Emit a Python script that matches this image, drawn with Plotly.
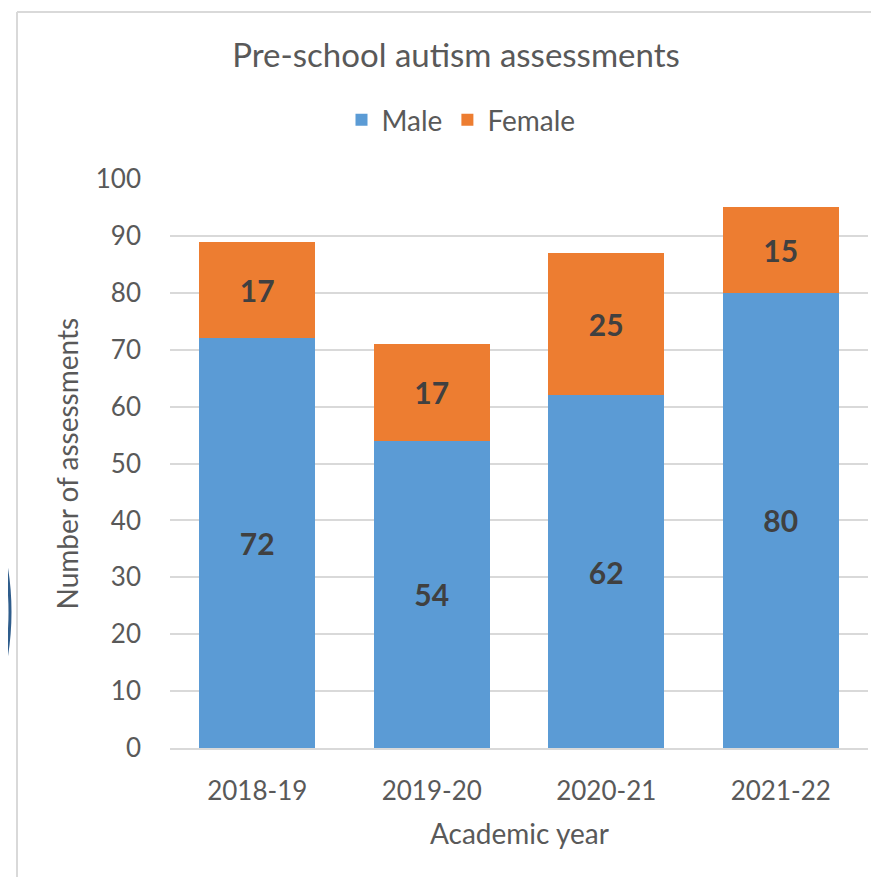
"""
Pre-school autism assessments chart
Stacked bar chart of assessments by sex and academic year
"""

import plotly.graph_objects as go

# Chart data
years = ['2018-19', '2019-20', '2020-21', '2021-22']
male = [72, 54, 62, 80]
female = [17, 17, 25, 15]

COLORS = {
    'male': '#5B9BD5',
    'female': '#ED7D31',
    'text': '#595959',
    'label': '#404040',
    'grid': '#D9D9D9',
    'border': '#D9D9D9',
    'ring': '#2F5D8C',
}

FONT = 'Lato, Calibri, sans-serif'

# the page puts an 8px body margin round the figure
OFF = 8
W, H = 879 - OFF, 877 - OFF
L, R, T, B = 170 - OFF, 11, 179 - OFF, 129


def px_x(x):
    """reference pixel x -> paper x"""
    return (x - OFF - L) / (W - L - R)


def px_y(y):
    """reference pixel y -> paper y"""
    return (H - B - (y - OFF)) / (H - B - T)


fig = go.Figure()

fig.add_trace(go.Bar(
    x=years, y=male,
    name='Male',
    marker=dict(color=COLORS['male'], line=dict(width=0)),
    text=male,
    textposition='inside',
    insidetextanchor='middle',
    textfont=dict(family=FONT, size=30, color=COLORS['label'], weight='bold'),
))

fig.add_trace(go.Bar(
    x=years, y=female,
    name='Female',
    marker=dict(color=COLORS['female'], line=dict(width=0)),
    text=female,
    textposition='inside',
    insidetextanchor='middle',
    textfont=dict(family=FONT, size=30, color=COLORS['label'], weight='bold'),
))

fig.update_layout(
    width=W, height=H,
    barmode='stack',
    bargap=0.335,
    plot_bgcolor='white',
    paper_bgcolor='white',
    font=dict(family=FONT, size=26, color=COLORS['text']),
    title=dict(
        text='Pre-school autism assessments',
        x=(456 - OFF) / W, xanchor='center',
        y=1 - (55 - OFF) / H, yanchor='middle',
        font=dict(family=FONT, size=33, color=COLORS['text']),
    ),
    legend=dict(
        orientation='h',
        x=px_x(461), xanchor='center',
        y=px_y(120), yanchor='middle',
        font=dict(family=FONT, size=28, color=COLORS['text']),
        itemwidth=30,
        traceorder='normal',
    ),
    uniformtext=dict(minsize=30, mode='show'),
    margin=dict(l=L, r=R, t=T, b=B),
    showlegend=True,
)

fig.update_xaxes(
    showgrid=False,
    showline=True, linecolor=COLORS['grid'], linewidth=2,
    ticks='', ticklabelstandoff=19,
    tickfont=dict(family=FONT, size=26, color=COLORS['text']),
)
fig.update_yaxes(
    range=[0, 100], dtick=10,
    showgrid=True, gridcolor=COLORS['grid'], gridwidth=2,
    zeroline=False,
    ticks='', ticklabelstandoff=28,
    tickfont=dict(family=FONT, size=26, color=COLORS['text']),
)

# Axis titles
fig.add_annotation(
    text='Number of assessments', xref='paper', yref='paper',
    x=px_x(66), y=0.5, xanchor='center', yanchor='middle',
    textangle=-90, showarrow=False,
    font=dict(family=FONT, size=28, color=COLORS['text']),
)
fig.add_annotation(
    text='Academic year', xref='paper', yref='paper',
    x=0.5, y=px_y(833), xanchor='center', yanchor='middle',
    showarrow=False,
    font=dict(family=FONT, size=28, color=COLORS['text']),
)

# Chart frame (left and top edges) and the ring cut off on the left
fig.add_shape(type='line', xref='paper', yref='paper',
              x0=px_x(17), x1=px_x(17), y0=px_y(12), y1=px_y(877 + 5),
              line=dict(color=COLORS['border'], width=2))
fig.add_shape(type='line', xref='paper', yref='paper',
              x0=px_x(17), x1=px_x(879 + 5), y0=px_y(12), y1=px_y(12),
              line=dict(color=COLORS['border'], width=2))
fig.add_shape(type='circle', xref='paper', yref='paper',
              x0=px_x(-542), x1=px_x(10), y0=px_y(888), y1=px_y(336),
              line=dict(color=COLORS['ring'], width=3))

fig.write_html('out.html')
